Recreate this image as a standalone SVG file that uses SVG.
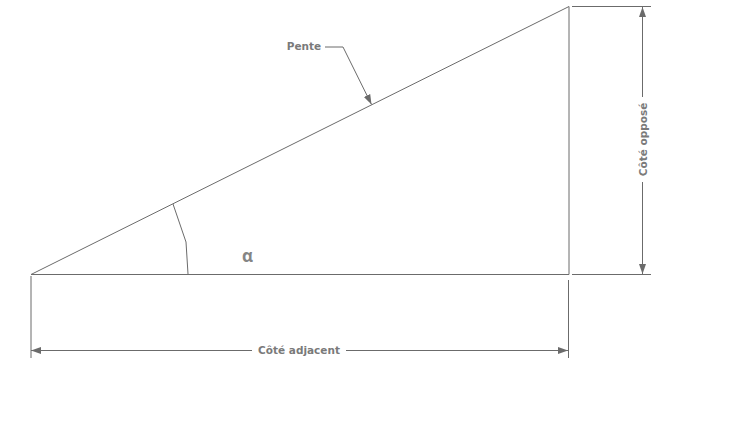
<svg xmlns="http://www.w3.org/2000/svg" width="744" height="431" viewBox="0 0 744 431">
<style>
.ln{stroke:#6b6b6b;stroke-width:1;fill:none}
.tx{font-family:"DejaVu Sans",Verdana,sans-serif;font-weight:bold;font-size:10.5px;fill:#7a7a7a}
</style>
<defs>
<marker id="ah" viewBox="0 0 10 10" refX="10" refY="5" markerWidth="10" markerHeight="10" markerUnits="userSpaceOnUse" orient="auto-start-reverse">
<path d="M0,1.5 L10,5 L0,8.5 Z" fill="#6b6b6b"/>
</marker>
</defs>
<rect width="744" height="431" fill="#fff"/>
<g id="triangle">
<polygon class="ln" points="31,274.5 569,6.5 569,274.5"/>
</g>
<g id="angle">
<polyline class="ln" points="173,204 186,242 188,274"/>
<text x="247.5" y="262" text-anchor="middle" style="font-family:'Open Sans',sans-serif;font-weight:bold;font-size:17px;fill:#858585">α</text>
</g>
<g id="connectors">
<line class="ln" x1="31" y1="276" x2="31" y2="358"/>
<line class="ln" x1="568.5" y1="280" x2="568.5" y2="358"/>
<line class="ln" x1="31" y1="350.5" x2="252" y2="350.5" marker-start="url(#ah)"/>
<line class="ln" x1="346" y1="350.5" x2="568" y2="350.5" marker-end="url(#ah)"/>
<line class="ln" x1="572" y1="6.5" x2="651" y2="6.5"/>
<line class="ln" x1="572" y1="274.5" x2="651" y2="274.5"/>
<line class="ln" x1="642.5" y1="7" x2="642.5" y2="97" marker-start="url(#ah)"/>
<line class="ln" x1="642.5" y1="182" x2="642.5" y2="274" marker-end="url(#ah)"/>
<polyline class="ln" points="325,47 343,47 371.5,104.5" marker-end="url(#ah)"/>
</g>
<g id="labels">
<text class="tx" x="304" y="50" text-anchor="middle">Pente</text>
<text class="tx" x="299" y="354" text-anchor="middle">Côté adjacent</text>
<text class="tx" transform="translate(646.5,139.5) rotate(-90)" text-anchor="middle">Côté opposé</text>
</g>
</svg>
